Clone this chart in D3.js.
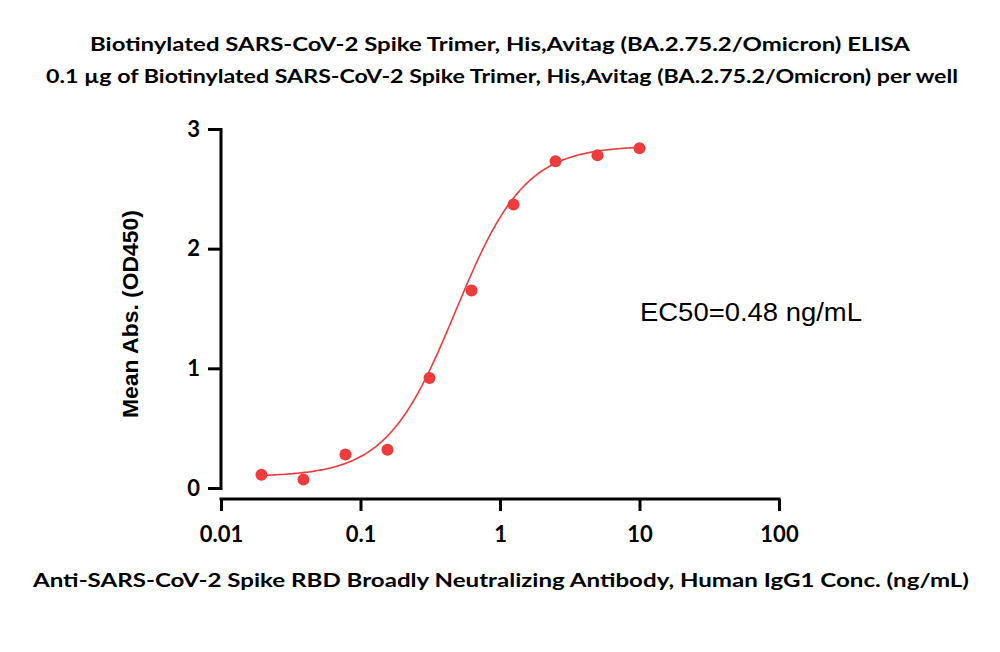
<!DOCTYPE html>
<html><head><meta charset="utf-8">
<script src="https://cdn.jsdelivr.net/npm/d3@7"></script>
<style>body{margin:0;background:#fff}svg{display:block}</style>
</head><body>
<svg id="c" width="1000" height="652"></svg>
<script>
const concentrations = [0.0195, 0.039, 0.078, 0.156, 0.3125, 0.625, 1.25, 2.5, 5, 10];
const meanAbs = [0.11, 0.07, 0.28, 0.32, 0.92, 1.65, 2.37, 2.73, 2.78, 2.84];
const xTicks = [0.01, 0.1, 1, 10, 100];
const xTickLabels = ["0.01", "0.1", "1", "10", "100"];
const yTicks = [0, 1, 2, 3];
const fitBottom = 0.095, fitTop = 2.86, fitEC50 = 0.48, fitHill = 1.75;
const titleLines = [
  "Biotinylated SARS-CoV-2 Spike Trimer, His,Avitag (BA.2.75.2/Omicron) ELISA",
  "0.1 \u00b5g of Biotinylated SARS-CoV-2 Spike Trimer, His,Avitag (BA.2.75.2/Omicron) per well"
];
const xTitle = "Anti-SARS-CoV-2 Spike RBD Broadly Neutralizing Antibody, Human IgG1 Conc. (ng/mL)";
const yTitle = "Mean Abs. (OD450)";
const annotation = "EC50=0.48 ng/mL";

const svg = d3.select("#c");
const x = d3.scaleLog().domain([0.01, 100]).range([221, 779]);
const y = d3.scaleLinear().domain([0, 3]).range([488, 129]);
const red = "#ee3b3b";
const titleFont = "Lato, 'Open Sans', sans-serif";

// Titles
svg.append("text").attr("x", 500).attr("y", 51).attr("text-anchor", "middle")
  .attr("font-family", titleFont).attr("font-weight", "bold").attr("font-size", 19)
  .attr("textLength", 820).attr("lengthAdjust", "spacingAndGlyphs").text(titleLines[0]);
svg.append("text").attr("x", 502).attr("y", 83).attr("text-anchor", "middle")
  .attr("font-family", titleFont).attr("font-weight", "bold").attr("font-size", 19)
  .attr("textLength", 912).attr("lengthAdjust", "spacingAndGlyphs").text(titleLines[1]);

// Y axis
const yAxis = svg.append("g").attr("transform", "translate(221,0)")
  .call(d3.axisLeft(y).tickValues(yTicks).tickFormat(d3.format("d")).tickSize(13).tickPadding(8));
yAxis.select(".domain").attr("d", `M0,${y(3)-1}V${y(0)+2}`);
// X axis
const xAxis = svg.append("g").attr("transform", "translate(0,499)")
  .call(d3.axisBottom(x).tickValues(xTicks).tickFormat((d, i) => xTickLabels[i]).tickSize(12).tickPadding(15));
xAxis.select(".domain").attr("d", `M${x(0.01)-1.5},0H${x(100)+1.5}`);

[yAxis, xAxis].forEach(g => {
  g.selectAll("path,line").attr("stroke", "#000").attr("stroke-width", 3);
  g.selectAll("text").attr("font-family", titleFont).attr("font-weight", "bold")
    .attr("font-size", 22).attr("fill", "#000");
});

// Axis titles
svg.append("text").attr("transform", "translate(138,314) rotate(-90)").attr("text-anchor", "middle")
  .attr("font-family", "'Liberation Sans', Arial, sans-serif").attr("font-weight", "bold").attr("font-size", 22)
  .attr("textLength", 208).attr("lengthAdjust", "spacingAndGlyphs")
  .text(yTitle);
svg.append("text").attr("x", 501).attr("y", 587).attr("text-anchor", "middle")
  .attr("font-family", titleFont).attr("font-weight", "bold").attr("font-size", 19)
  .attr("textLength", 936).attr("lengthAdjust", "spacingAndGlyphs").text(xTitle);

// Fit curve
const fit = c => fitBottom + (fitTop - fitBottom) / (1 + Math.pow(fitEC50 / c, fitHill));
const lo = Math.log10(concentrations[0]), hi = Math.log10(concentrations[concentrations.length-1]);
const curveX = d3.range(0, 201).map(i => Math.pow(10, lo + i / 200 * (hi - lo)));
svg.append("path").datum(curveX)
  .attr("d", d3.line().x(d => x(d)).y(d => y(fit(d))))
  .attr("fill", "none").attr("stroke", red).attr("stroke-width", 1.6);

// Points
svg.append("g").selectAll("circle").data(concentrations).join("circle")
  .attr("cx", d => x(d)).attr("cy", (d, i) => y(meanAbs[i])).attr("r", 6).attr("fill", red);

// Annotation
svg.append("text").attr("x", 640).attr("y", 321)
  .attr("font-family", "'Liberation Sans', Arial, sans-serif").attr("font-size", 25)
  .attr("textLength", 222).attr("lengthAdjust", "spacingAndGlyphs")
  .text(annotation);
</script>
</body></html>
